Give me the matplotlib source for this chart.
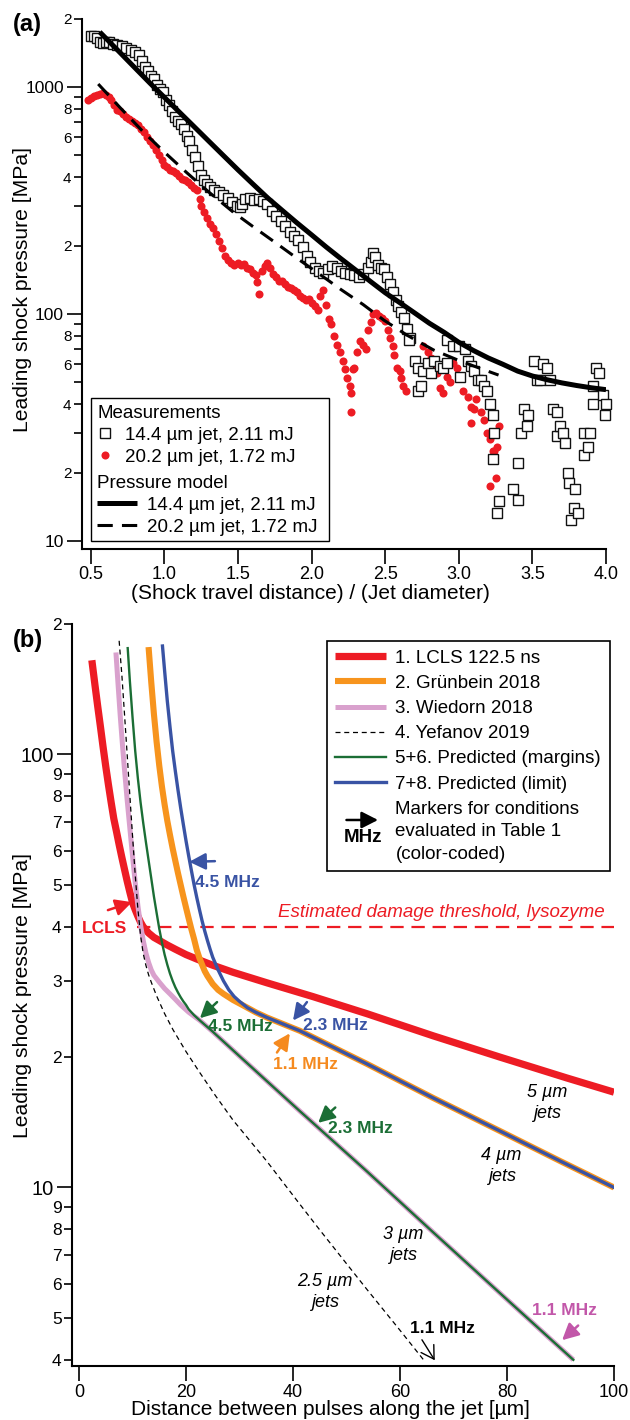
import math
import matplotlib
matplotlib.use("Agg")
import matplotlib.pyplot as plt
from matplotlib.ticker import FixedLocator, FuncFormatter
from matplotlib.lines import Line2D
from matplotlib.patches import Rectangle, FancyArrowPatch
from matplotlib.text import Text
from matplotlib.legend_handler import HandlerBase

plt.rcParams['font.family'] = ['Liberation Sans', 'DejaVu Sans']

# ---------------- panel (a) data ----------------
# 14.4 um jet, 2.11 mJ (open squares)
sq_x = [0.50, 0.52, 0.54, 0.56, 0.58, 0.60, 0.62, 0.65, 0.68, 0.71, 0.74, 0.77, 0.80, 0.83,
        0.85, 0.87, 0.89, 0.91, 0.93, 0.95, 0.97, 0.99, 1.01, 1.03, 1.05, 1.07, 1.09, 1.11,
        1.13, 1.15, 1.17, 1.19, 1.21, 1.23, 1.25, 1.27, 1.29, 1.31, 1.34, 1.37, 1.40, 1.43,
        1.46, 1.49, 1.51, 1.53, 1.55, 1.58, 1.61, 1.64, 1.67, 1.70, 1.73, 1.76, 1.79, 1.82,
        1.85, 1.88, 1.91, 1.94, 1.97, 1.99, 2.02, 2.05, 2.08, 2.11, 2.14, 2.17, 2.20, 2.23,
        2.26, 2.29, 2.32, 2.35, 2.38, 2.40, 2.42, 2.43, 2.45, 2.47, 2.49, 2.51, 2.53, 2.55,
        2.57, 2.59, 2.61, 2.63, 2.65, 2.67, 2.66, 2.70, 2.72, 2.72, 2.74, 2.76, 2.79, 2.81,
        2.83, 2.87, 2.89, 2.92, 2.92, 2.96, 3.00, 3.01, 3.04, 3.06, 3.08, 3.10, 3.13, 3.15,
        3.17, 3.19, 3.21, 3.23, 3.24, 3.23, 3.26, 3.27, 3.37, 3.40, 3.40, 3.42, 3.44, 3.46,
        3.47, 3.51, 3.53, 3.55, 3.57, 3.60, 3.62, 3.64, 3.67, 3.67, 3.69, 3.71, 3.72, 3.74,
        3.75, 3.76, 3.78, 3.79, 3.81, 3.85, 3.85, 3.88, 3.89, 3.91, 3.91, 3.93, 3.95, 3.98,
        3.99, 4.00]
sq_y = [1680, 1670, 1650, 1570, 1560, 1580, 1570, 1550, 1530, 1510, 1490, 1460, 1430, 1380,
        1300, 1230, 1170, 1120, 1080, 1020, 980, 950, 880, 830, 780, 740, 710, 690,
        650, 610, 580, 530, 490, 450, 410, 390, 375, 362, 350, 343, 335, 325,
        312, 300, 296, 305, 322, 325, 318, 322, 316, 305, 285, 270, 258, 245,
        230, 220, 212, 198, 180, 170, 160, 155, 152, 157, 162, 160, 155, 152,
        150, 148, 146, 150, 160, 170, 185, 178, 165, 160, 157, 145, 135, 125,
        115, 108, 102, 96, 86, 78, 77, 62, 58, 46, 48, 56, 61, 55,
        62, 59, 58, 61, 77, 72, 72, 53, 70, 62, 59, 56, 51, 51,
        48, 46, 40, 36, 30, 23, 13.3, 15, 17, 22, 15.2, 30, 38, 32,
        36, 62, 51, 51, 60, 58, 51, 38, 37, 29, 32, 30, 27, 20,
        18, 12.4, 14, 17, 13.3, 24, 30, 26, 30, 48, 40, 58, 55, 44,
        36, 40]

# 20.2 um jet, 1.72 mJ (red dots)
dot_x = [0.48, 0.50, 0.52, 0.54, 0.56, 0.58, 0.60, 0.62, 0.64, 0.66, 0.68, 0.70, 0.72, 0.74,
         0.76, 0.78, 0.80, 0.82, 0.84, 0.86, 0.88, 0.90, 0.92, 0.94, 0.96, 0.98, 1.00, 1.02,
         1.04, 1.06, 1.08, 1.10, 1.12, 1.14, 1.16, 1.18, 1.20, 1.22, 1.24, 1.25, 1.27, 1.29,
         1.31, 1.33, 1.35, 1.37, 1.39, 1.41, 1.43, 1.45, 1.47, 1.50, 1.52, 1.54, 1.56, 1.58,
         1.60, 1.62, 1.63, 1.64, 1.66, 1.68, 1.70, 1.72, 1.74, 1.76, 1.78, 1.80, 1.82, 1.84,
         1.86, 1.88, 1.90, 1.92, 1.94, 1.96, 1.98, 2.00, 2.02, 2.04, 2.06, 2.08, 2.10, 2.12,
         2.13, 2.15, 2.17, 2.19, 2.21, 2.23, 2.24, 2.26, 2.27, 2.27, 2.28, 2.29, 2.31, 2.33,
         2.35, 2.37, 2.38, 2.40, 2.42, 2.44, 2.46, 2.48, 2.50, 2.52, 2.53, 2.55, 2.56, 2.58,
         2.60, 2.61, 2.62, 2.64, 2.76, 2.79, 2.81, 2.83, 2.85, 2.87, 2.89, 2.92, 2.94, 2.96,
         2.99, 3.01, 3.03, 3.06, 3.08, 3.08, 3.10, 3.12, 3.15, 3.17, 3.19, 3.21, 3.23, 3.24,
         3.26, 3.27, 3.25, 3.21]
dot_y = [880, 895, 910, 925, 935, 940, 925, 905, 880, 830, 795, 780, 760, 740,
         725, 705, 695, 680, 655, 630, 600, 580, 555, 525, 500, 475, 455, 445,
         430, 425, 418, 405, 395, 390, 380, 370, 360, 352, 320, 300, 280, 265,
         250, 240, 225, 210, 195, 180, 172, 168, 165, 168, 165, 166, 160, 158,
         152, 148, 138, 122, 155, 162, 168, 160, 150, 145, 140, 140, 135, 132,
         130, 128, 125, 120, 117, 115, 116, 112, 108, 104, 120, 127, 110, 95,
         90, 80, 73, 68, 62, 57, 52, 48, 45, 37, 57, 58, 68, 76,
         73, 70, 85, 92, 100, 101, 98, 96, 93, 85, 78, 72, 66, 58,
         56, 52, 48, 46, 72, 68, 64, 60, 55, 47, 45, 53, 50, 61,
         58, 53, 46, 43, 39, 33, 38, 42, 37, 34, 30, 28, 25, 25,
         26, 32, 19, 17.5]

# pressure model curves
model14_x = [0.56, 0.7, 0.8, 0.9, 1.0, 1.1, 1.2, 1.3, 1.4, 1.5, 1.6, 1.7, 1.8, 1.9, 2.0, 2.1,
             2.2, 2.3, 2.4, 2.5, 2.6, 2.7, 2.8, 2.9, 3.0, 3.1, 3.2, 3.3, 3.4, 3.5, 3.6, 3.7,
             3.8, 3.9, 4.0]
model14_y = [1746, 1413, 1213, 1042, 899, 776, 670, 578, 499, 431, 374, 325, 286, 252, 223, 197,
             175, 156, 139, 124, 112, 101, 91, 83, 75, 69, 64, 60, 56, 53.3, 51.3, 49.7,
             48.4, 47.3, 46.4]
model20_x = [0.55, 0.70, 0.85, 1.00, 1.15, 1.30, 1.47, 1.60, 1.75, 1.90, 2.04, 2.20, 2.35,
             2.49, 2.65, 2.83, 3.00, 3.15, 3.27]
model20_y = [1030, 809, 640, 516, 420, 345, 280, 243, 207, 176, 152, 128, 110,
             94, 80.5, 69.3, 62.4, 57.4, 53.8]

a_xticks = [0.5, 1.0, 1.5, 2.0, 2.5, 3.0, 3.5, 4.0]

# ---------------- panel (b) data ----------------
lcls_x = [2.4, 3.0, 3.5, 4.0, 4.5, 5.0, 5.5, 6.0, 6.5, 7.0, 7.5, 8.0, 8.5, 9.0, 9.5, 10.0,
          10.5, 11.0, 11.5, 12.0, 13.0, 14.0, 15.0, 16.5, 18.0, 20.0, 22.0, 25.0, 28.8, 35.1,
          43.7, 53.8, 66.2, 78.7, 91.2, 100]
lcls_y = [165, 144, 129, 116, 104, 93.8, 85.1, 77.6, 71.1, 66.4, 61.9, 57.9, 54.3, 51.0,
          48.1, 45.5, 43.8, 42.3, 41.0, 40.0, 38.7, 37.8, 37.2, 36.3, 35.5, 34.5, 33.7, 32.6,
          31.4, 29.7, 27.6, 25.2, 22.4, 20.0, 17.9, 16.6]

grun_x = [13.0, 13.5, 14.0, 14.5, 15.0, 15.5, 16.0, 16.5, 17.0, 17.5, 18.0, 18.5, 19.0, 19.5,
          20.0, 20.5, 21.0, 21.5, 22.0, 22.5, 23.0, 23.5, 24.0, 25.0, 26.0, 27.0, 28.8, 31.5,
          33.0, 35.1, 41.3, 53.8, 66.2, 78.7, 90, 100]
grun_y = [177, 147, 124, 107, 94.2, 84.3, 76.6, 70.3, 65.2, 60.7, 56.8, 53.2, 50.0, 47.0,
          44.3, 41.8, 39.5, 37.5, 35.4, 33.9, 32.7, 31.6, 30.8, 29.5, 28.6, 28.0, 27.1, 26.0,
          25.4, 24.7, 23.0, 19.3, 16.1, 13.5, 11.5, 10.0]

lim_x = [15.6, 16.0, 16.5, 17.0, 17.5, 18.0, 18.5, 19.0, 19.5, 20.0, 20.5, 21.0, 21.5, 22.0,
         22.5, 23.0, 23.5, 24.0, 24.5, 25.0, 26.0, 27.0, 28.0, 29.0, 30.0, 31.5, 33.0, 35.1,
         41.3, 53.8, 66.2, 78.7, 90, 100]
lim_y = [178, 156, 133, 116, 102, 91.6, 82.8, 75.3, 68.9, 63.2, 58.3, 54.0, 50.1, 46.8,
         43.9, 41.3, 39.1, 37.2, 35.5, 34.0, 31.8, 30.0, 28.6, 27.6, 26.9, 26.0, 25.4, 24.7,
         23.0, 19.3, 16.1, 13.5, 11.5, 10.0]

wied_x = [6.9, 7.3, 7.7, 8.1, 8.5, 9.0, 9.5, 10.0, 10.5, 11.0, 11.5, 12.0, 12.5, 13.0, 13.5,
          14.0, 15.0, 16.0, 17.0, 18.0, 19.0, 20.5, 22.6, 25.0, 30.0, 41.3, 53.8, 66.2, 78.7,
          92.4]
wied_y = [172, 145, 123, 106, 92.3, 78.5, 67.6, 58.3, 50.7, 44.8, 40.4, 37.2, 34.8, 33.1,
          31.8, 30.9, 29.8, 28.8, 28.0, 27.2, 26.4, 25.4, 24.3, 22.9, 20.1, 15.0, 10.9, 7.88,
          5.70, 4.0]

marg_x = [9.1, 9.5, 10.0, 10.5, 11.0, 11.5, 12.0, 12.5, 13.0, 13.5, 14.0, 14.5, 15.0, 15.5,
          16.0, 16.5, 17.0, 17.5, 18.0, 18.5, 19.0, 19.5, 20.0, 20.5, 21.5, 22.6, 25.0, 30.0,
          41.3, 53.8, 66.2, 78.7, 92.4]
marg_y = [176, 148, 122, 102, 88.1, 77.6, 69.5, 62.8, 57.0, 51.8, 47.0, 43.1, 39.6, 36.8,
          34.5, 32.7, 31.2, 30.0, 29.0, 28.2, 27.5, 26.9, 26.4, 25.8, 25.0, 24.3, 22.9, 20.1,
          15.0, 10.9, 7.88, 5.70, 4.0]

yef_x = [7.5, 8.0, 8.5, 9.0, 9.5, 10.0, 10.5, 11.0, 11.5, 12.0, 12.5, 13.0, 13.5, 14.5,
         16.0, 17.6, 20.0, 22.6, 25.5, 28.8, 35.1, 41.3, 45.0, 53.8, 60.0, 64.4]
yef_y = [183, 153, 124, 100, 80.4, 64.9, 52.8, 44.0, 38.2, 34.7, 32.6, 31.0, 29.8, 27.7,
         25.2, 23.1, 20.6, 18.4, 16.3, 14.3, 11.5, 9.14, 7.98, 5.82, 4.68, 4.0]

threshold = 40
thr_x = [10.9, 100]

b_xticks = [0, 20, 40, 60, 80, 100]

RED = '#ed1c24'
ORANGE = '#f7941d'
PINK = '#d9a1cd'
GREEN = '#1b6e35'
BLUE = '#3953a4'

fig = plt.figure(figsize=(6.3, 14.2), dpi=100)


def lead(v):
    e = math.floor(math.log10(v) + 1e-9)
    return int(round(v / 10 ** e))


def style_axes(ax):
    for s in ('top', 'right'):
        ax.spines[s].set_visible(False)
    for s in ('left', 'bottom'):
        ax.spines[s].set_linewidth(1.5)
    ax.tick_params(which='major', direction='out', length=11, width=1.2, color='black')
    ax.tick_params(which='minor', direction='out', length=6, width=1.2, color='black')


# ================= panel (a) =================
ax = fig.add_axes([0.1302, 0.6134, 0.8317, 0.3735])
style_axes(ax)
ax.set_yscale('log')
ax.set_xlim(0.44, 4.0)
ax.set_ylim(9.22, 2000)

ax.plot(dot_x, dot_y, 'o', color=RED, ms=5.8, mew=0, zorder=2, clip_on=False)
ax.plot(sq_x, sq_y, 's', mfc='white', mec='#111111', ms=6.8, mew=1.0, zorder=3, clip_on=False)
ax.plot(model14_x, model14_y, '-', color='black', lw=3.6, zorder=4, solid_capstyle='butt')
ax.plot(model20_x, model20_y, color='black', lw=2.2, dashes=(5, 3), zorder=4)

ax.set_xticks(a_xticks)
ax.xaxis.set_major_formatter(FuncFormatter(lambda v, p: f'{v:.1f}'))
ax.tick_params(axis='x', labelsize=13, pad=1)
ax.yaxis.set_major_locator(FixedLocator([10, 100, 1000]))
ax.yaxis.set_major_formatter(FuncFormatter(lambda v, p: f'{v:g}'))
ax.yaxis.set_minor_locator(FixedLocator([d * 10 ** e for e in (1, 2) for d in range(2, 10)] + [2000]))
ax.yaxis.set_minor_formatter(FuncFormatter(lambda v, p: str(lead(v)) if lead(v) in (2, 4, 6, 8) else ''))
ax.tick_params(axis='y', which='major', labelsize=12.5, pad=2)
ax.tick_params(axis='y', which='minor', labelsize=11, pad=1.5)

ax.set_ylabel('Leading shock pressure [MPa]', fontsize=15.2)
ax.yaxis.set_label_coords(-0.095, 0.49)
ax.set_xlabel('(Shock travel distance) / (Jet diameter)', fontsize=15, va='top')
ax.xaxis.set_label_coords(0.435, -0.066)

ax.add_patch(Rectangle((0.0172, 0.0151), 0.4542, 0.2698, transform=ax.transAxes,
                       facecolor='white', edgecolor='black', lw=1.0, zorder=6))
h_sq = Line2D([], [], ls='none', marker='s', mfc='white', mec='#111111', ms=6.8, mew=1.0)
h_dot = Line2D([], [], ls='none', marker='o', color=RED, ms=5.8, mew=0)
leg1 = ax.legend([h_sq, h_dot], ['14.4 µm jet, 2.11 mJ', '20.2 µm jet, 1.72 mJ'],
                 title='Measurements', alignment='left', loc='upper left',
                 bbox_to_anchor=(0.0286, 0.2717), frameon=False, fontsize=13.5,
                 title_fontsize=13.5, handlelength=0.85, handletextpad=0.65, borderpad=0,
                 borderaxespad=0, labelspacing=0.26, numpoints=1)
leg1.set_zorder(7)
ax.add_artist(leg1)
h_m14 = Line2D([], [], color='black', lw=3.6, solid_capstyle='butt')
h_m20 = Line2D([], [], color='black', lw=2.2, dashes=(5, 3))
leg2 = ax.legend([h_m14, h_m20], ['14.4 µm jet, 2.11 mJ', '20.2 µm jet, 1.72 mJ'],
                 title='Pressure model', alignment='left', loc='upper left',
                 bbox_to_anchor=(0.0286, 0.1396), frameon=False, fontsize=13.5,
                 title_fontsize=13.5, handlelength=2.15, handletextpad=0.5, borderpad=0,
                 borderaxespad=0, labelspacing=0.26)
leg2.set_zorder(7)

fig.text(13 / 630, 1 - 25 / 1420, '(a)', fontsize=17, fontweight='bold', va='center', ha='left')

# ================= panel (b) =================
bx = fig.add_axes([0.1143, 0.0380, 0.8603, 0.5225])
style_axes(bx)
bx.set_yscale('log')
bx.set_xlim(-1.31, 100)
bx.set_ylim(3.87, 200)

bx.hlines(threshold, thr_x[0], thr_x[1], colors=RED, lw=1.6, linestyles=(0, (6, 3.5)), zorder=2)
l1, = bx.plot(lcls_x, lcls_y, color=RED, lw=5.2, solid_capstyle='butt', zorder=3)
l2, = bx.plot(grun_x, grun_y, color=ORANGE, lw=4.4, solid_capstyle='butt', zorder=3)
l3, = bx.plot(wied_x, wied_y, color=PINK, lw=3.6, solid_capstyle='butt', zorder=3)
l4, = bx.plot(yef_x, yef_y, color='black', lw=0.9, dashes=(4, 3), zorder=4)
l5, = bx.plot(marg_x, marg_y, color=GREEN, lw=1.7, zorder=4)
l6, = bx.plot(lim_x, lim_y, color=BLUE, lw=2.4, zorder=4)

bx.set_xticks(b_xticks)
bx.tick_params(axis='x', labelsize=13, pad=2)
bx.yaxis.set_major_locator(FixedLocator([10, 100]))
bx.yaxis.set_major_formatter(FuncFormatter(lambda v, p: f'{v:g}'))
bx.yaxis.set_minor_locator(FixedLocator(list(range(4, 10)) + [d * 10 for d in range(2, 10)] + [200]))
bx.yaxis.set_minor_formatter(FuncFormatter(lambda v, p: str(lead(v))))
bx.tick_params(axis='y', which='major', labelsize=14.5, pad=2)
bx.tick_params(axis='y', which='minor', labelsize=12.5, pad=1.5)

bx.set_ylabel('Leading shock pressure [MPa]', fontsize=15.2)
bx.yaxis.set_label_coords(-0.074, 0.5)
bx.set_xlabel('Distance between pulses along the jet [µm]', fontsize=15, va='top')
bx.xaxis.set_label_coords(0.476, -0.0455)

bx.text(98.3, 43.1, 'Estimated damage threshold, lysozyme', color=RED, style='italic',
        fontsize=13.5, ha='right', va='center')

# frequency markers: (label, colour, text position, arrow tip, arrow tail, open head)
markers_b = [
    ('LCLS', RED, (0.6, 39.7), (9.9, 45.6), (5.4, 43.7), False),
    ('4.5 MHz', BLUE, (21.7, 50.7), (20.6, 56.5), (25.4, 56.7), False),
    ('4.5 MHz', GREEN, (24.1, 23.5), (22.6, 24.6), (25.8, 26.8), False),
    ('2.3 MHz', BLUE, (41.9, 23.7), (40.0, 24.3), (42.6, 26.8), False),
    ('1.1 MHz', '#f58a1f', (36.3, 19.2), (39.4, 22.7), (37.0, 20.5), False),
    ('2.3 MHz', GREEN, (46.5, 13.7), (44.7, 14.1), (47.9, 15.3), False),
    ('1.1 MHz', '#c257a9', (84.7, 5.2), (90.3, 4.44), (93.3, 4.8), False),
    ('1.1 MHz', 'black', (61.9, 4.72), (66.5, 3.99), (64.1, 4.45), True),
]
for label, col, txy, tip, tail, open_head in markers_b:
    bx.text(txy[0], txy[1], label, color=col, fontsize=12.5, fontweight='bold',
            ha='left', va='center', zorder=6)
    if open_head:
        style = '->,head_length=0.5,head_width=0.3'
        lw = 1.0
    else:
        style = '-|>,head_length=0.55,head_width=0.28'
        lw = 1.8
    bx.annotate('', xy=tip, xytext=tail,
                arrowprops=dict(arrowstyle=style, color=col, lw=lw, mutation_scale=18,
                                shrinkA=0, shrinkB=0), zorder=6)

jets_b = [('5 µm\njets', 87.5, 15.7), ('4 µm\njets', 79.0, 11.2),
          ('3 µm\njets', 60.6, 7.35), ('2.5 µm\njets', 46.0, 5.75)]
for label, jx, jy in jets_b:
    bx.text(jx, jy, label, style='italic', fontsize=13, ha='center', va='center',
            linespacing=1.3, zorder=6)


class MarkerKeyHandler(HandlerBase):
    def create_artists(self, legend, orig_handle, xdescent, ydescent, width, height,
                       fontsize, trans):
        yc = (height - ydescent) / 2
        x0 = -xdescent
        arr = FancyArrowPatch((x0 + 0.22 * width, yc + 0.62 * fontsize),
                              (x0 + 0.85 * width, yc + 0.62 * fontsize),
                              arrowstyle='-|>,head_length=0.55,head_width=0.28',
                              mutation_scale=18, lw=1.8, color='black',
                              shrinkA=0, shrinkB=0, transform=trans)
        txt = Text(x0 + 0.55 * width, yc - 0.3 * fontsize, 'MHz', ha='center', va='center',
                   fontsize=fontsize, fontweight='bold', transform=trans)
        return [arr, txt]


key = Line2D([], [], color='none')
leg_b = bx.legend([l1, l2, l3, l4, l5, l6, key],
                  ['1. LCLS 122.5 ns', '2. Grünbein 2018', '3. Wiedorn 2018', '4. Yefanov 2019',
                   '5+6. Predicted (margins)', '7+8. Predicted (limit)',
                   'Markers for conditions\nevaluated in Table 1\n(color-coded)'],
                  handler_map={key: MarkerKeyHandler()},
                  loc='upper left', bbox_to_anchor=(0.4705, 0.977), borderaxespad=0,
                  fontsize=13.5, handlelength=2.67, handletextpad=0.53, borderpad=0.45,
                  labelspacing=0.43, fancybox=False, framealpha=1, edgecolor='black')
leg_b.get_frame().set_linewidth(1.2)
leg_b.get_texts()[-1].set_linespacing(1.42)
leg_b.set_zorder(8)

fig.text(13 / 630, 1 - 640 / 1420, '(b)', fontsize=17, fontweight='bold', va='center', ha='left')

fig.savefig('out.png', dpi=100)
